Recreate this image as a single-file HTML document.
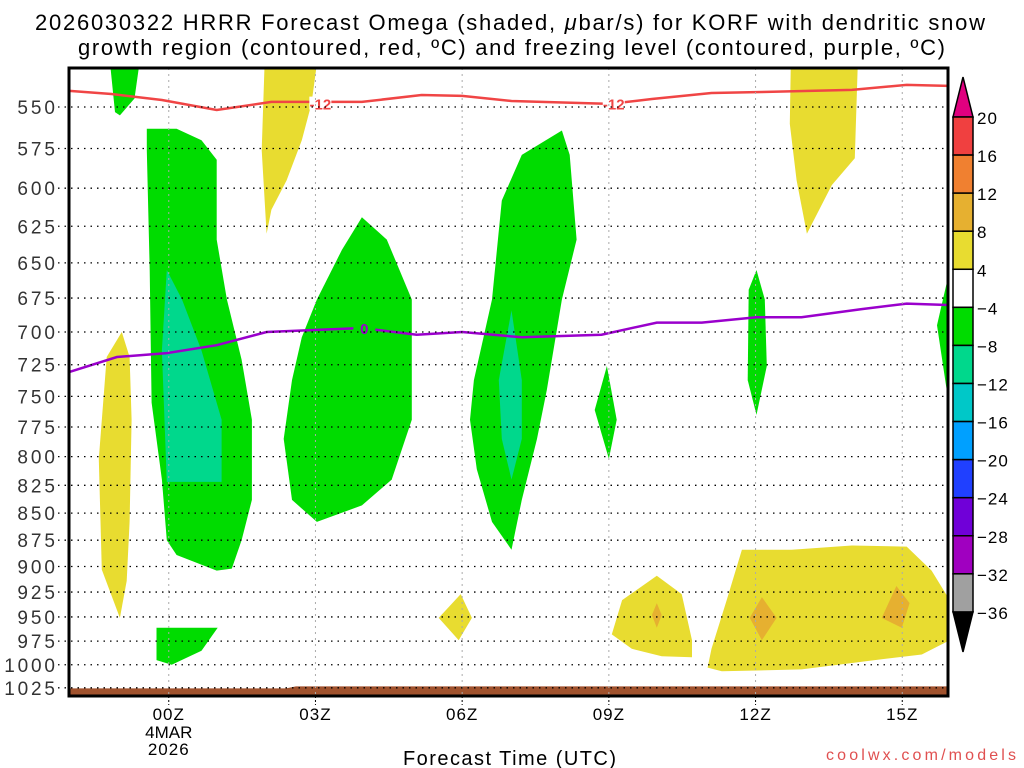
<!DOCTYPE html>
<html><head><meta charset="utf-8">
<style>
html,body{margin:0;padding:0;background:#fff;width:1024px;height:768px;overflow:hidden}
svg{display:block}
text{font-family:"Liberation Sans","DejaVu Sans",sans-serif}
</style></head>
<body>
<svg id="chart" width="1024" height="768" viewBox="0 0 1024 768" xmlns="http://www.w3.org/2000/svg">
<text x="35" y="30" font-size="22" textLength="950" lengthAdjust="spacing">2026030322 HRRR Forecast Omega (shaded, <tspan font-style="italic">μ</tspan>bar/s) for KORF with dendritic snow</text>
<text x="78" y="55" font-size="22" textLength="867" lengthAdjust="spacing">growth region (contoured, red, ºC) and freezing level (contoured, purple, ºC)</text>
<g id="plot"></g>
<text x="403" y="765" font-size="20" textLength="213" lengthAdjust="spacing">Forecast Time (UTC)</text>
<text x="826" y="760" font-size="16" fill="#e05050" textLength="190" lengthAdjust="spacing">coolwx.com/models</text>
</svg>
<script>
// ---- data ----
const pressureTicks = [550,575,600,625,650,675,700,725,750,775,800,825,850,875,900,925,950,975,1000,1025];
const hourTicks = [0,3,6,9,12,15];
const hourLabels = ["00Z","03Z","06Z","09Z","12Z","15Z"];
const colorLevels = [20,16,12,8,4,-4,-8,-12,-16,-20,-24,-28,-32,-36];
const levelColors = ["#f04040","#f08030","#e6b030","#e8dc30","#ffffff","#00dc00","#00d88c","#00c8c8","#00a0ff","#2040ff","#7000d8","#a000c0","#a0a0a0"];
// shaded omega regions: [hour, hPa]
const greenRegions = [
 [[-1.2,525],[-0.6,525],[-0.7,545],[-1.0,555],[-1.1,553]],
 [[-0.45,563],[0.16,563],[0.67,570],[0.98,582],[0.98,634],[1.19,676],[1.49,721],[1.70,769],[1.70,838],[1.49,875],[1.29,902],[0.98,904],[0.16,889],[-0.04,875],[-0.14,820],[-0.35,755],[-0.39,655],[-0.45,576]],
 [[-0.25,961],[1.0,961],[0.67,985],[0.06,1000],[-0.25,995]],
 [[3.95,619],[4.46,634],[4.97,676],[4.97,769],[4.56,820],[3.95,843],[3.03,858],[2.52,838],[2.35,785],[2.52,737],[2.72,704],[3.03,676],[3.54,641]],
 [[7.22,579],[8.04,564],[8.20,579],[8.34,634],[8.04,676],[7.73,745],[7.53,785],[7.22,838],[7.01,884],[6.61,858],[6.30,811],[6.16,769],[6.24,737],[6.61,676],[6.81,608]],
 [[8.96,726],[9.16,769],[9.0,802],[8.71,761]],
 [[12.02,655],[12.19,676],[12.23,726],[12.02,765],[11.84,737],[11.86,669]],
 [[15.97,655],[15.71,695],[15.97,761]]
];
const tealRegions = [
 [[-0.04,655],[0.27,676],[0.67,714],[1.08,769],[1.08,822],[-0.04,822],[-0.14,714]],
 [[7.01,684],[7.22,737],[7.22,785],[7.01,820],[6.81,785],[6.75,737]]
];
const yellowRegions = [
 [[-0.96,700],[-0.80,719],[-0.76,769],[-0.80,858],[-0.86,914],[-1.0,951],[-1.37,903],[-1.43,802],[-1.27,719]],
 [[1.96,525],[3.03,525],[2.92,548],[2.72,570],[2.41,595],[2.10,614],[2.0,630],[1.90,576]],
 [[12.72,525],[14.09,525],[14.03,581],[13.56,598],[13.05,630],[12.84,595],[12.70,560]],
 [[5.97,927],[6.20,951],[5.93,974],[5.52,951]],
 [[9.98,909],[10.49,927],[10.70,974],[10.70,992],[10.08,991],[9.47,983],[9.06,968],[9.27,933]],
 [[11.72,884],[12.74,884],[13.97,880],[15.09,881],[15.6,904],[15.97,933],[15.97,974],[15.4,989],[14.58,994],[12.94,1005],[11.31,1007],[11.02,1003],[11.1,983],[11.41,933]]
];
const orangeRegions = [
 [[9.98,936],[10.08,948],[9.98,961],[9.88,948]],
 [[12.13,930],[12.43,951],[12.13,974],[11.88,951]],
 [[14.88,919],[15.15,936],[14.99,961],[14.58,951]]
];
const groundHours = [-2.1,2.4,2.6,16.1];
const groundPres = [1025.6,1025.6,1023.4,1023.4];
const dgzHours = [-2.03,-1.17,-0.14,0.98,2.10,3.95,5.17,6.0,7.01,9.02,9.88,11.1,12.13,13.97,15.09,15.97];
const dgzPres = [540.6,542.4,545.9,551.8,547,547,543,543.5,546.5,548.2,545.3,541.8,541.2,540,537.1,537.7];
const frzHours = [-2.03,-1.06,-0.04,0.98,2.0,3.95,5.07,6.0,7.22,8.85,9.98,10.90,12.02,12.94,14.17,15.09,15.97];
const frzPres = [730.6,719,716,710,700,697,702,700,704,702,693,693,689,689,683,679,680];

// ---- axes ----
const X0=69,X1=948,Y0=68,Y1=696;
const H0=-2.04,HPX=48.9;
const P0=550,YP0=107,PK=933;
const xs=h=>X0+(h-H0)*HPX;
const ys=p=>YP0+PK*Math.log(p/P0);
const NS="http://www.w3.org/2000/svg";
const plot=document.getElementById('plot');
const svg=document.getElementById('chart');
function mk(tag,attrs,parent){const e=document.createElementNS(NS,tag);for(const k in attrs)e.setAttribute(k,attrs[k]);(parent||plot).appendChild(e);return e;}
const clip=mk('clipPath',{id:'pc'},svg);
mk('rect',{x:X0,y:Y0,width:X1-X0,height:Y1-Y0},clip);
const g=mk('g',{'clip-path':'url(#pc)'});


function poly(pts,fill,name){
  const e=mk('polygon',{points:pts.map(p=>xs(p[0]).toFixed(1)+','+ys(p[1]).toFixed(1)).join(' '),fill:fill},g);
  
  
}
greenRegions.forEach(r=>poly(r,levelColors[5],'omega-region-green'));
tealRegions.forEach(r=>poly(r,levelColors[6],'omega-region-teal'));
yellowRegions.forEach(r=>poly(r,levelColors[3],'omega-region-yellow'));
orangeRegions.forEach(r=>poly(r,levelColors[2],'omega-region-orange'));
// ground
{const pts=groundHours.map((h,i)=>[h,groundPres[i]]);pts.push([16.1,1040],[-2.1,1040]);poly(pts,'#a0522d','ground-surface');}
// grid
hourTicks.forEach((h,i)=>{
  const l=mk('line',{x1:xs(h),x2:xs(h),y1:Y0,y2:Y1,stroke:'#aaa','stroke-width':1,'stroke-dasharray':'2,4'});
  
  
  const t=mk('line',{x1:xs(h),x2:xs(h),y1:Y1,y2:Y1+9,stroke:'#000','stroke-width':1,'stroke-dasharray':'2,2'});
  
  
  const tx=mk('text',{x:xs(h),y:Y1+24,'font-size':17,'text-anchor':'middle','letter-spacing':1});
  tx.textContent=hourLabels[i];
  
  
});
{const a=mk('text',{x:xs(0),y:Y1+42,'font-size':17,'text-anchor':'middle'});a.textContent='4MAR';


const b=mk('text',{x:xs(0),y:Y1+59,'font-size':17,'text-anchor':'middle','letter-spacing':1});b.textContent='2026';

}
pressureTicks.forEach(p=>{
  const y=ys(p);
  const l=mk('line',{x1:58,x2:X1,y1:y,y2:y,stroke:'#000','stroke-width':1.3,'stroke-dasharray':'1.5,5'});
  
  
  const s=String(p);
  const w=s.length*13.2;
  const t=mk('text',{x:57-w,y:y+7,'font-size':19,fill:'#333',textLength:w-2,lengthAdjust:'spacing'});
  t.textContent=s;
  
  
});
// contours
function line(hs,ps,color,name){
  const e=mk('polyline',{points:hs.map((h,i)=>xs(h).toFixed(1)+','+ys(ps[i]).toFixed(1)).join(' '),fill:'none',stroke:color,'stroke-width':2.5},g);
  
  
}
line(dgzHours,dgzPres,'#f04545','dgz-minus12-contour');
line(frzHours,frzPres,'#9a00cc','freezing-level-contour');
function clabel(h,p,txt,color,name,bg){
  const x=xs(h),y=ys(p);
  const r=mk('rect',{x:x-11,y:y-7,width:22,height:13,fill:bg},g);
  
  
  const t=mk('text',{x:x,y:y+6,'font-size':15,'font-weight':'bold','text-anchor':'middle',fill:color},g);
  t.textContent=txt;
  
  
}
clabel(3.1,548,'-12','#f04545','dgz-contour-label','#fff');
clabel(9.1,548,'-12','#f04545','dgz-contour-label','#fff');
clabel(4.0,697,'0','#9a00cc','freezing-contour-label','#00dc00');
// frame
{const f=mk('rect',{x:X0,y:Y0,width:X1-X0,height:Y1-Y0,fill:'none',stroke:'#000','stroke-width':3});

}
// colorbar
const CBX=953,CBW=20,CBY0=117,CBS=38.07;
const cb=mk('g',{});


{const tri=mk('polygon',{points:`${CBX},${CBY0} ${CBX+CBW},${CBY0} ${CBX+CBW/2},${CBY0-40}`,fill:'#e0007f',stroke:'#000','stroke-width':1.5},cb);


const n=colorLevels.length-1;
const tri2=mk('polygon',{points:`${CBX},${CBY0+n*CBS} ${CBX+CBW},${CBY0+n*CBS} ${CBX+CBW/2},${CBY0+n*CBS+40}`,fill:'#000',stroke:'#000','stroke-width':1.5},cb);

}
levelColors.forEach((c,i)=>{
  const r=mk('rect',{x:CBX,y:CBY0+i*CBS,width:CBW,height:CBS,fill:c,stroke:'#000','stroke-width':1.5},cb);
  
  
});
colorLevels.forEach((v,i)=>{
  const t=mk('text',{x:CBX+CBW+4,y:CBY0+i*CBS+7,'font-size':17,'letter-spacing':1},cb);
  t.textContent=v<0?'\u2212'+(-v):v;
  
  
});
</script>
</body></html>
